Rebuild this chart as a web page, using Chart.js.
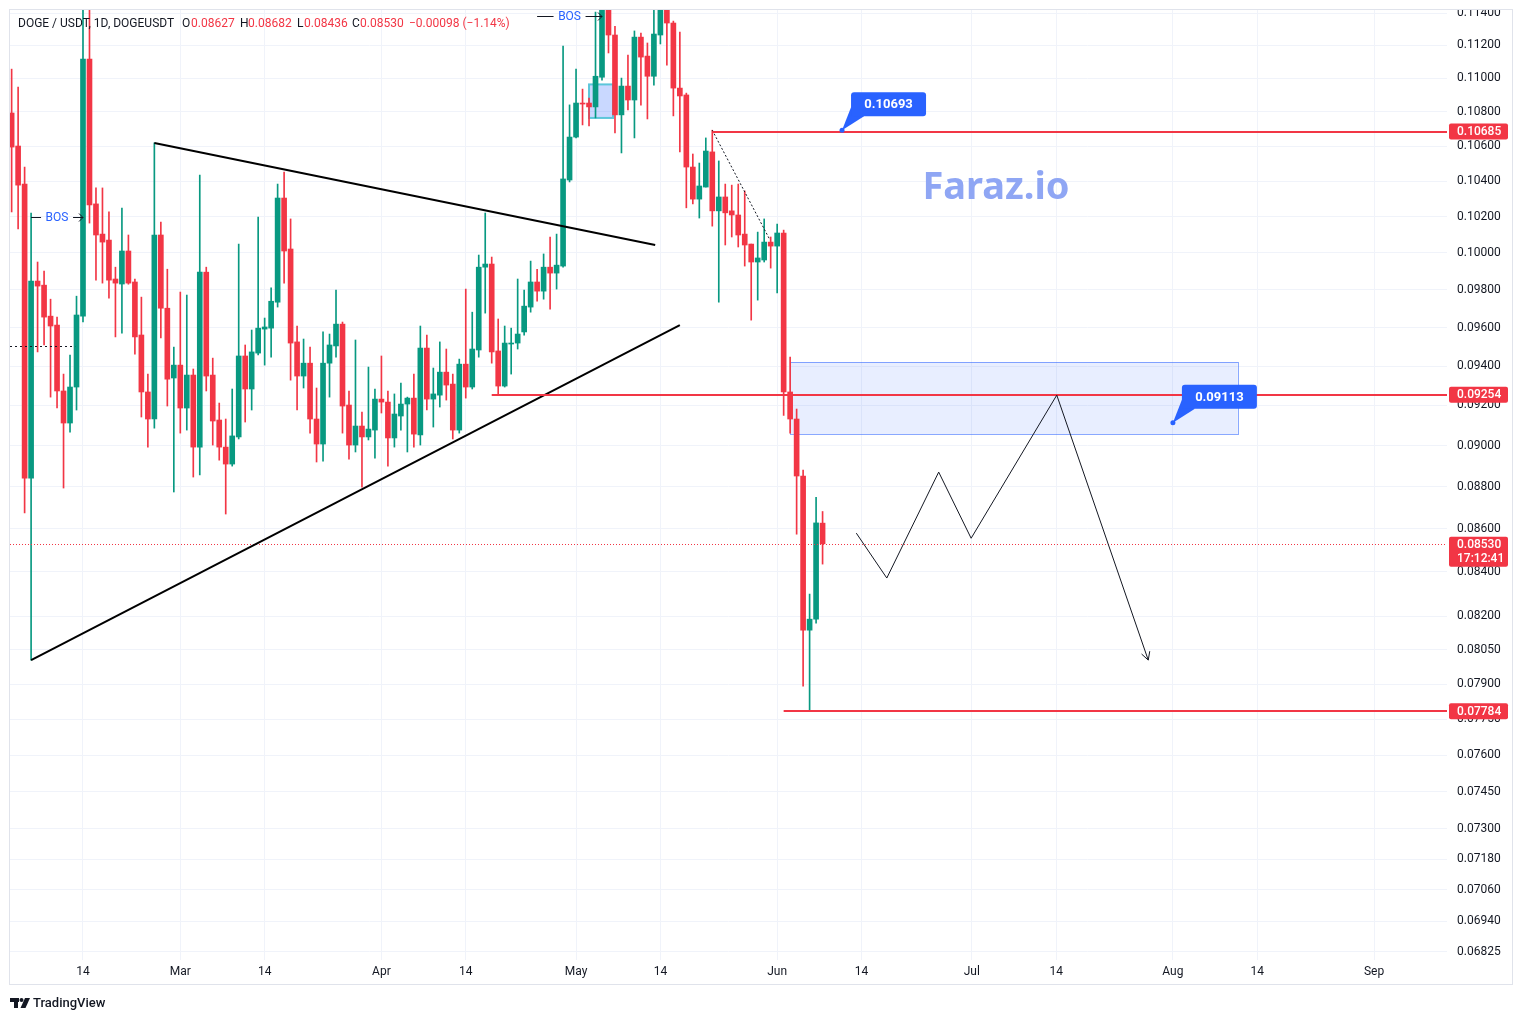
<!DOCTYPE html>
<html><head><meta charset="utf-8">
<script src="https://cdn.jsdelivr.net/npm/chart.js@4.4.1/dist/chart.umd.min.js"></script>
<style>html,body{margin:0;padding:0;background:#fff;overflow:hidden}</style>
</head><body>
<canvas id="c" width="1523" height="1021" style="display:block;width:1523px;height:1021px"></canvas>
<script>
// ---- DATA (day index: Feb 1 = 0) ----
const dayIndex = [2,3,4,5,6,7,8,9,10,11,12,13,14,15,16,17,18,19,20,21,22,23,24,25,26,27,28,29,30,31,32,33,34,35,36,37,38,39,40,41,42,43,44,45,46,47,48,49,50,51,52,53,54,55,56,57,58,59,60,61,62,63,64,65,66,67,68,69,70,71,72,73,74,75,76,77,78,79,80,81,82,83,84,85,86,87,88,89,90,91,92,93,94,95,96,97,98,99,100,101,102,103,104,105,106,107,108,109,110,111,112,113,114,115,116,117,118,119,120,121,122,123,124,125,126,127];
const opens = [0.10794,0.10601,0.10383,0.08842,0.09847,0.09825,0.09660,0.09613,0.09273,0.09112,0.09293,0.09660,0.11117,0.10271,0.10103,0.10070,0.09858,0.09831,0.10010,0.09842,0.09561,0.09268,0.09132,0.10098,0.09702,0.09339,0.09405,0.09187,0.09354,0.08993,0.09895,0.09354,0.09127,0.08993,0.08910,0.09043,0.09452,0.09283,0.09467,0.09592,0.09597,0.09734,0.10304,0.10021,0.09525,0.09349,0.09415,0.09132,0.09008,0.09415,0.09504,0.09618,0.09202,0.09003,0.09097,0.09043,0.09077,0.09232,0.09217,0.09038,0.09147,0.09207,0.09237,0.09053,0.09493,0.09232,0.09252,0.09369,0.09308,0.09077,0.09410,0.09293,0.09483,0.09922,0.09939,0.09478,0.09298,0.09514,0.09519,0.09577,0.09708,0.09842,0.09793,0.09922,0.09890,0.09928,0.10406,0.10653,0.10853,0.10853,0.10830,0.11007,0.11480,0.11264,0.10783,0.10954,0.10871,0.11251,0.11135,0.11013,0.11264,0.11470,0.11338,0.10942,0.10901,0.10480,0.10298,0.10366,0.10567,0.10232,0.10310,0.10232,0.10209,0.10103,0.10048,0.09950,0.09961,0.10059,0.10037,0.10109,0.09268,0.09132,0.08852,0.08137,0.08186,0.08627];
const highs = [0.11056,0.10948,0.10480,0.10220,0.09950,0.09901,0.09750,0.09655,0.09359,0.09457,0.09766,0.11450,0.11420,0.10361,0.10361,0.10226,0.09922,0.10248,0.10098,0.09858,0.09761,0.09359,0.10619,0.10170,0.09911,0.09498,0.09788,0.09772,0.09385,0.10434,0.09922,0.09441,0.09212,0.09132,0.09283,0.10048,0.09509,0.09587,0.10198,0.09650,0.09810,0.10383,0.10451,0.10187,0.09608,0.09540,0.09498,0.09288,0.09577,0.09566,0.09799,0.09629,0.09273,0.09535,0.09167,0.09395,0.09283,0.09452,0.09273,0.09258,0.09313,0.09242,0.09359,0.09608,0.09561,0.09390,0.09525,0.09488,0.09359,0.09436,0.09804,0.09681,0.09988,0.10220,0.09977,0.09645,0.09608,0.09597,0.09858,0.09799,0.09955,0.09911,0.09994,0.10087,0.10103,0.11196,0.10842,0.11056,0.10936,0.10883,0.11406,0.11600,0.11650,0.11318,0.11002,0.11141,0.11289,0.11276,0.11215,0.11419,0.11580,0.11600,0.11350,0.11282,0.10912,0.10555,0.10503,0.10648,0.10693,0.10515,0.10383,0.10377,0.10383,0.10344,0.10048,0.10114,0.10187,0.10087,0.10159,0.10125,0.09446,0.09182,0.08881,0.08299,0.08750,0.08682];
const lows = [0.10226,0.10131,0.08675,0.08005,0.09473,0.09509,0.09242,0.09187,0.08794,0.09067,0.09177,0.09629,0.10164,0.09852,0.09836,0.09756,0.09551,0.09571,0.09830,0.09462,0.09142,0.08993,0.09087,0.09546,0.09197,0.08775,0.09062,0.09077,0.08847,0.08857,0.09273,0.09003,0.08929,0.08670,0.08900,0.09033,0.09117,0.09177,0.09457,0.09405,0.09446,0.09708,0.09836,0.09328,0.09177,0.09288,0.09062,0.08920,0.08924,0.09242,0.09446,0.09062,0.08934,0.08969,0.08798,0.09028,0.08939,0.09162,0.08900,0.08993,0.09077,0.08969,0.08993,0.09003,0.09177,0.09092,0.09192,0.09227,0.09033,0.09062,0.09237,0.09283,0.09446,0.09676,0.09415,0.09252,0.09293,0.09359,0.09488,0.09560,0.09681,0.09740,0.09750,0.09697,0.09804,0.09922,0.10395,0.10648,0.10724,0.10718,0.10765,0.10990,0.11154,0.10677,0.10561,0.10812,0.10648,0.10841,0.10759,0.10960,0.11209,0.11080,0.10777,0.10567,0.10249,0.10271,0.10192,0.10366,0.10147,0.09734,0.10043,0.10087,0.10032,0.09928,0.09639,0.09745,0.09950,0.09917,0.09783,0.09150,0.09062,0.08575,0.07892,0.07784,0.08168,0.08436];
const closes = [0.10595,0.10377,0.08842,0.09847,0.09820,0.09655,0.09608,0.09273,0.09112,0.09293,0.09666,0.11117,0.10265,0.10098,0.10059,0.09852,0.09836,0.10010,0.09836,0.09551,0.09268,0.09132,0.10098,0.09702,0.09333,0.09405,0.09187,0.09354,0.08993,0.09895,0.09349,0.09122,0.08993,0.08910,0.09048,0.09452,0.09283,0.09473,0.09597,0.09603,0.09739,0.10304,0.10010,0.09519,0.09349,0.09415,0.09132,0.09008,0.09415,0.09509,0.09618,0.09197,0.09003,0.09097,0.09043,0.09082,0.09232,0.09217,0.09038,0.09157,0.09207,0.09237,0.09057,0.09493,0.09232,0.09258,0.09369,0.09303,0.09077,0.09410,0.09293,0.09488,0.09922,0.09939,0.09473,0.09298,0.09519,0.09519,0.09566,0.09713,0.09842,0.09793,0.09922,0.09890,0.09933,0.10412,0.10653,0.10853,0.10847,0.10830,0.11013,0.11480,0.11264,0.10783,0.10954,0.10871,0.11251,0.11129,0.11013,0.11270,0.11470,0.11338,0.10942,0.10895,0.10480,0.10298,0.10372,0.10572,0.10232,0.10310,0.10221,0.10209,0.10098,0.10043,0.09950,0.09972,0.10059,0.10037,0.10109,0.09268,0.09132,0.08852,0.08137,0.08186,0.08628,0.08530];

const yTickValues = [0.114,0.112,0.110,0.108,0.106,0.104,0.102,0.100,0.098,0.096,0.094,0.092,0.090,0.088,0.086,0.084,0.082,0.0805,0.079,0.0775,0.076,0.0745,0.073,0.0718,0.0706,0.0694,0.06825];
const xTickDays = [13,28,41,59,72,89,102,120,133,150,163,181,194,212];
const xTickLabels = ['14','Mar','14','Apr','14','May','14','Jun','14','Jul','14','Aug','14','Sep'];

// annotation values (day, price)
const triUpperDays = [24, 101.2], triUpperPrices = [0.10619, 0.10043];
const triLowerDays = [5, 105.0], triLowerPrices = [0.08005, 0.09613];
const diagDays = [110, 118.9], diagPrices = [0.10693, 0.10070];
const levelPrices = [0.10685, 0.09254, 0.07784];
const levelStartDays = [110, 76, 121];
const zoneDays = [122, 191], zonePrices = [0.09421, 0.09057];
const boxDays = [91.0, 94.7], boxPrices = [0.10964, 0.10765];
const zigDays = [132.2, 136.9, 144.9, 149.9, 163.1, 177.2];
const zigPrices = [0.08580, 0.08372, 0.08871, 0.08556, 0.09252, 0.08005];
const calloutDays = [130, 181], calloutPrices = [0.10693, 0.09113];
const bosDays = [[5, 13], [83, 93]], bosPrices = [0.1020, 0.11381];
const dotLevelDays = [1.75, 11.8], dotLevelPrice = 0.09504;
const lastTime = '17:12:41';

const UP = '#089981', DN = '#F23645';
const colors = opens.map((o,i)=> closes[i] >= o ? UP : DN);

function rr(ctx,x,y,w,h,r){ctx.beginPath();ctx.moveTo(x+r,y);ctx.lineTo(x+w-r,y);ctx.quadraticCurveTo(x+w,y,x+w,y+r);ctx.lineTo(x+w,y+h-r);ctx.quadraticCurveTo(x+w,y+h,x+w-r,y+h);ctx.lineTo(x+r,y+h);ctx.quadraticCurveTo(x,y+h,x,y+h-r);ctx.lineTo(x,y+r);ctx.quadraticCurveTo(x,y,x+r,y);ctx.closePath();}

const anno = {
  id:'anno',
  beforeDatasetsDraw(chart){
    const {ctx, chartArea:ca, scales:{x,y}} = chart;
    ctx.save();
    ctx.beginPath(); ctx.rect(ca.left, ca.top, ca.right-ca.left, ca.bottom-ca.top); ctx.clip();
    let x1=x.getPixelForValue(zoneDays[0]), x2=x.getPixelForValue(zoneDays[1]);
    let y1=y.getPixelForValue(zonePrices[0]), y2=y.getPixelForValue(zonePrices[1]);
    ctx.fillStyle='rgba(41,98,255,0.11)'; ctx.fillRect(x1,y1,x2-x1,y2-y1);
    ctx.strokeStyle='rgba(41,98,255,0.55)'; ctx.lineWidth=1; ctx.strokeRect(Math.round(x1)+0.5,Math.round(y1)+0.5,Math.round(x2-x1),Math.round(y2-y1));
    x1=x.getPixelForValue(boxDays[0]); x2=x.getPixelForValue(boxDays[1]);
    y1=y.getPixelForValue(boxPrices[0]); y2=y.getPixelForValue(boxPrices[1]);
    ctx.fillStyle='rgba(41,98,255,0.25)'; ctx.fillRect(x1,y1,x2-x1,y2-y1);
    ctx.strokeStyle='#5cc6da'; ctx.lineWidth=2; ctx.strokeRect(x1,y1,x2-x1,y2-y1);
    ctx.restore();
  },
  afterDraw(chart){
    const {ctx, chartArea:ca, scales:{x,y}} = chart;
    const X=d=>x.getPixelForValue(d), Y=v=>y.getPixelForValue(v);
    ctx.save();
    ctx.beginPath(); ctx.rect(ca.left, ca.top, ca.right-ca.left, ca.bottom-ca.top); ctx.clip();
    const last = closes.length-1;
    ctx.strokeStyle=DN; ctx.lineWidth=1; ctx.setLineDash([1,2]);
    let yp=Math.round(Y(closes[last]))+0.5;
    ctx.beginPath(); ctx.moveTo(ca.left,yp); ctx.lineTo(ca.right,yp); ctx.stroke();
    ctx.strokeStyle='#131722'; ctx.setLineDash([2,3]);
    yp=Math.round(Y(dotLevelPrice))+0.5;
    ctx.beginPath(); ctx.moveTo(X(dotLevelDays[0]),yp); ctx.lineTo(X(dotLevelDays[1]),yp); ctx.stroke();
    ctx.setLineDash([2,2]);
    ctx.beginPath(); ctx.moveTo(X(diagDays[0]),Y(diagPrices[0])); ctx.lineTo(X(diagDays[1]),Y(diagPrices[1])); ctx.stroke();
    ctx.setLineDash([]);
    ctx.strokeStyle='#000'; ctx.lineWidth=2;
    ctx.beginPath(); ctx.moveTo(X(triUpperDays[0]),Y(triUpperPrices[0])); ctx.lineTo(X(triUpperDays[1]),Y(triUpperPrices[1])); ctx.stroke();
    ctx.beginPath(); ctx.moveTo(X(triLowerDays[0]),Y(triLowerPrices[0])); ctx.lineTo(X(triLowerDays[1]),Y(triLowerPrices[1])); ctx.stroke();
    ctx.strokeStyle=DN; ctx.lineWidth=2;
    levelPrices.forEach((p,i)=>{ const yy=Math.round(Y(p)); ctx.beginPath(); ctx.moveTo(X(levelStartDays[i]),yy); ctx.lineTo(ca.right,yy); ctx.stroke(); });
    ctx.strokeStyle='#131722'; ctx.lineWidth=1;
    ctx.beginPath();
    zigDays.forEach((d,i)=>{ const px=X(d), py=Y(zigPrices[i]); if(i===0) ctx.moveTo(px,py); else ctx.lineTo(px,py); });
    ctx.stroke();
    { const n=zigDays.length; const ex=X(zigDays[n-1]), ey=Y(zigPrices[n-1]); const sx=X(zigDays[n-2]), sy=Y(zigPrices[n-2]);
      const a=Math.atan2(ey-sy, ex-sx), L=9;
      ctx.beginPath(); ctx.moveTo(ex-L*Math.cos(a-0.5), ey-L*Math.sin(a-0.5)); ctx.lineTo(ex,ey); ctx.lineTo(ex-L*Math.cos(a+0.5), ey-L*Math.sin(a+0.5)); ctx.stroke(); }
    ctx.font='12px Roboto'; ctx.textBaseline='middle'; ctx.textAlign='center';
    bosDays.forEach((dd,i)=>{
      const xa=X(dd[0]), xb=X(dd[1]), yy=Math.round(Y(bosPrices[i]))+0.5, mid=(xa+xb)/2;
      ctx.strokeStyle='#131722'; ctx.lineWidth=1;
      ctx.beginPath(); ctx.moveTo(xa,yy); ctx.lineTo(mid-16,yy); ctx.moveTo(mid+16,yy); ctx.lineTo(xb,yy); ctx.stroke();
      ctx.beginPath(); ctx.moveTo(xb-4,yy-4); ctx.lineTo(xb,yy); ctx.lineTo(xb-4,yy+4); ctx.stroke();
      ctx.fillStyle='#2962FF'; ctx.fillText('BOS', mid, yy);
    });
    ctx.fillStyle='#8fa6f4'; ctx.font='bold 38px "Noto Sans", "DejaVu Sans", sans-serif'; ctx.textAlign='center'; ctx.textBaseline='middle';
    ctx.fillText('Faraz.io', 996, 188);
    ctx.font='12px Roboto'; ctx.textAlign='left'; ctx.textBaseline='middle';
    const chg = closes[last]-closes[last-1], pct = chg/closes[last-1]*100;
    const fm = v => (v<0?'\u2212':'+')+Math.abs(v).toFixed(5);
    const hdr = [['DOGE / USDT, 1D, DOGEUSDT',18,'#131722'],['O',182,'#131722'],[opens[last].toFixed(5),191,DN],['H',240,'#131722'],[highs[last].toFixed(5),248,DN],
      ['L',297,'#131722'],[lows[last].toFixed(5),304,DN],['C',352,'#131722'],[closes[last].toFixed(5),360,DN],[fm(chg)+' ('+(pct<0?'\u2212':'+')+Math.abs(pct).toFixed(2)+'%)',409,DN]];
    hdr.forEach(h=>{ctx.fillStyle=h[2]; ctx.fillText(h[0],h[1],24);});
    ctx.restore();

    ctx.save();
    calloutDays.forEach((d,i)=>{
      const ax=X(d), ay=Y(calloutPrices[i]); const bx=ax+9, by=ay-38, bw=75, bh=24;
      ctx.fillStyle='#2962FF';
      ctx.beginPath(); ctx.moveTo(ax,ay); ctx.lineTo(bx,by+bh-9); ctx.lineTo(bx+13,by+bh); ctx.closePath(); ctx.fill();
      rr(ctx,bx,by,bw,bh,3); ctx.fill();
      ctx.beginPath(); ctx.arc(ax,ay,2.5,0,Math.PI*2); ctx.fill();
      ctx.fillStyle='#fff'; ctx.font='bold 13px Roboto'; ctx.textAlign='center'; ctx.textBaseline='middle';
      ctx.fillText(calloutPrices[i].toFixed(5), bx+bw/2, by+bh/2+0.5);
    });
    const tag=(p,lines)=>{
      const yy=Y(p); const h=lines.length===1?16:30; const top=lines.length===1?yy-8:yy-7;
      ctx.fillStyle=DN; rr(ctx,1449,top,59,h,2); ctx.fill();
      ctx.fillStyle='#fff'; ctx.font='500 12px Roboto'; ctx.textAlign='left'; ctx.textBaseline='middle';
      lines.forEach((t,k)=>ctx.fillText(t,1457,top+8.5+k*14));
    };
    levelPrices.forEach(p=>tag(p,[p.toFixed(5)]));
    tag(closes[last],[closes[last].toFixed(5), lastTime]);
    ctx.fillStyle='#fff'; ctx.fillRect(0,0,1523,9);
    ctx.strokeStyle='#e0e3eb'; ctx.lineWidth=1; ctx.strokeRect(9.5,9.5,1503,975);
    ctx.fillStyle='#131722';
    ctx.fillRect(10,998,9,4); ctx.fillRect(14,998,4,10);
    ctx.beginPath(); ctx.arc(21.5,1000,2,0,Math.PI*2); ctx.fill();
    ctx.beginPath(); ctx.moveTo(25,998); ctx.lineTo(30,998); ctx.lineTo(25.5,1008); ctx.lineTo(20.5,1008); ctx.closePath(); ctx.fill();
    ctx.font='500 13px Roboto'; ctx.textAlign='left'; ctx.textBaseline='middle';
    ctx.fillText('TradingView',33,1003.5);
    ctx.restore();
  }
};

Chart.defaults.font.family='Roboto';
Chart.defaults.font.size=12;
Chart.defaults.color='#131722';

const noPad = s => { s.paddingTop=0; s.paddingBottom=0; s.paddingLeft=0; s.paddingRight=0; };

new Chart(document.getElementById('c'),{
  type:'bar',
  data:{datasets:[
    {label:'wick', data: dayIndex.map((d,i)=>({x:d, y:[lows[i], highs[i]]})), backgroundColor:colors, barThickness:1, grouped:false, clip:0, borderWidth:0, order:2},
    {label:'body', data: dayIndex.map((d,i)=>({x:d, y:[opens[i], closes[i]]})), backgroundColor:colors, barThickness:5, minBarLength:1, grouped:false, clip:0, borderWidth:0, order:1}
  ]},
  options:{
    responsive:false, animation:false, devicePixelRatio:1,
    layout:{padding:{left:10, top:10, right:10, bottom:36}},
    plugins:{legend:{display:false}, tooltip:{enabled:false}},
    scales:{
      x:{type:'linear', min:1.748, max:223.25, offset:false,
         grid:{color:'#f0f3fa', drawTicks:false, offset:false}, border:{display:false},
         afterBuildTicks:s=>{s.ticks=xTickDays.map(v=>({value:v}));},
         afterFit:s=>{s.height=25; noPad(s);},
         ticks:{autoSkip:false, maxRotation:0, padding:5, color:'#131722', font:{size:12}, callback:(v,i)=>xTickLabels[i]}},
      y:{type:'logarithmic', position:'right', min:0.06795, max:0.11419,
         grid:{color:'#f0f3fa', drawTicks:false}, border:{display:false},
         afterBuildTicks:s=>{s.ticks=yTickValues.map(v=>({value:v}));},
         afterFit:s=>{s.width=66; noPad(s);},
         ticks:{autoSkip:false, padding:10, color:'#131722', font:{size:12}, callback:v=>Number(v).toFixed(5)}}
    }
  },
  plugins:[anno]
});
</script>
</body></html>
